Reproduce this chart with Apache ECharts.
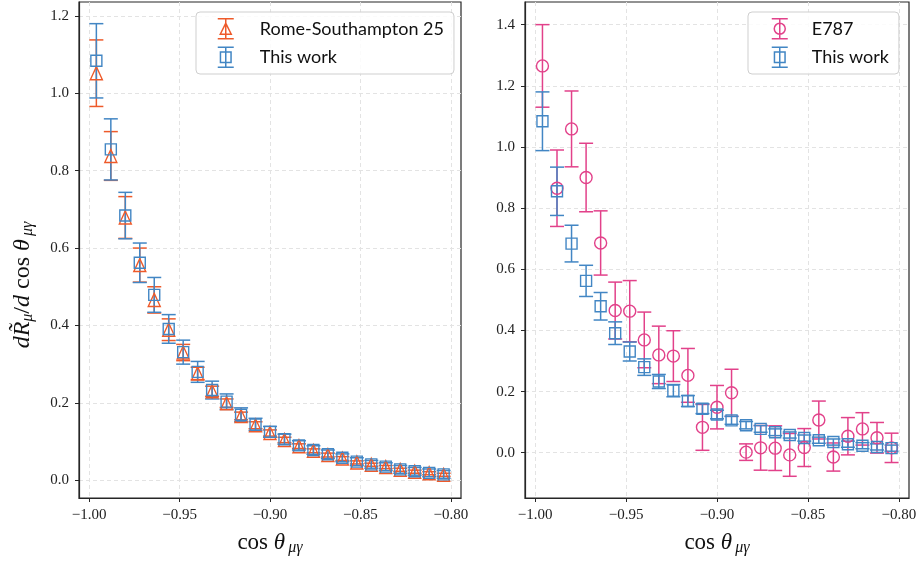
<!DOCTYPE html>
<html>
<head>
<meta charset="utf-8">
<script src="https://cdn.jsdelivr.net/npm/echarts@6/dist/echarts.min.js"></script>
<style>
html,body{margin:0;padding:0;background:#fff;}
#c{width:920px;height:561px;}
</style>
</head>
<body>
<div id="c"></div>
<script>
// ---- data ----
const cosTheta = [-0.996,-0.988,-0.980,-0.972,-0.964,-0.956,-0.948,-0.940,-0.932,-0.924,-0.916,-0.908,-0.900,-0.892,-0.884,-0.876,-0.868,-0.860,-0.852,-0.844,-0.836,-0.828,-0.820,-0.812,-0.804];

const thisWorkY   = [1.084,0.855,0.684,0.562,0.479,0.391,0.331,0.280,0.233,0.203,0.169,0.144,0.125,0.106,0.090,0.078,0.067,0.058,0.048,0.041,0.035,0.028,0.023,0.019,0.015];
const thisWorkErr = [0.096,0.079,0.060,0.051,0.045,0.037,0.031,0.027,0.023,0.020,0.018,0.016,0.014,0.013,0.012,0.011,0.011,0.010,0.010,0.010,0.010,0.010,0.010,0.010,0.010];

const romeY   = [1.052,0.838,0.679,0.556,0.466,0.389,0.330,0.276,0.230,0.199,0.166,0.142,0.122,0.104,0.088,0.076,0.065,0.056,0.046,0.040,0.034,0.027,0.022,0.018,0.014];
const romeErr = [0.086,0.063,0.054,0.044,0.034,0.028,0.021,0.016,0.013,0.011,0.010,0.009,0.008,0.007,0.006,0.005,0.005,0.005,0.004,0.004,0.004,0.004,0.004,0.004,0.004];

const e787Y   = [1.265,0.865,1.059,0.900,0.686,0.465,0.463,0.369,0.320,0.316,0.253,0.083,0.149,0.196,0.002,0.016,0.015,-0.007,0.017,0.107,-0.014,0.054,0.078,0.049,0.016];
const e787Err = [0.135,0.125,0.124,0.112,0.105,0.093,0.100,0.091,0.094,0.083,0.088,0.075,0.071,0.077,0.027,0.073,0.073,0.070,0.062,0.062,0.046,0.061,0.053,0.050,0.048];

const xTicks = [-1.00,-0.95,-0.90,-0.85,-0.80];
const yTicksLeft = [0.0,0.2,0.4,0.6,0.8,1.0,1.2];
const yTicksRight = [0.0,0.2,0.4,0.6,0.8,1.0,1.2,1.4];

const names = {rome:'Rome-Southampton 25', tw:'This work', e787:'E787'};
const colors = {rome:'#EE5A2A', tw:'#4286C4', e787:'#E2418A'};

// ---- helpers ----
const minus = s => s.replace('-', '\u2212');
function triples(ys, es){ return cosTheta.map((x,i)=>[x, ys[i], es[i]]); }
function pairs(ys){ return cosTheta.map((x,i)=>[x, ys[i]]); }

function errRender(color){
  return function(params, api){
    const x = api.value(0), y = api.value(1), e = api.value(2);
    const top = api.coord([x, y + e]);
    const bot = api.coord([x, y - e]);
    const cw = 7;
    const st = {stroke: color, lineWidth: 1.5, fill: null};
    return {type:'group', children:[
      {type:'line', shape:{x1:top[0], y1:top[1], x2:bot[0], y2:bot[1]}, style:st},
      {type:'line', shape:{x1:top[0]-cw, y1:top[1], x2:top[0]+cw, y2:top[1]}, style:st},
      {type:'line', shape:{x1:bot[0]-cw, y1:bot[1], x2:bot[0]+cw, y2:bot[1]}, style:st}
    ]};
  };
}
function errSeries(name, ys, es, color, idx){
  return {type:'custom', name:name, xAxisIndex:idx, yAxisIndex:idx,
    renderItem: errRender(color), data: triples(ys, es),
    encode:{x:0, y:1}, silent:true, clip:false, animation:false};
}
function markSeries(name, ys, color, idx, symbol, size){
  return {type:'scatter', name:name, xAxisIndex:idx, yAxisIndex:idx,
    data: pairs(ys), symbol:symbol, symbolSize:size, silent:true, animation:false,
    itemStyle:{color:'rgba(0,0,0,0)', borderColor:color, borderWidth:1.4, opacity:1},
    emphasis:{disabled:true}};
}

const serif = 'Liberation Serif';
const axisColor = '#262626';
const gridLine = {show:true, lineStyle:{color:'#e3e3e3', type:[4,3], width:1}};

function xAxis(idx){
  return {type:'value', gridIndex:idx, min:-1.0056, max:-0.7944,
    axisLine:{show:true, onZero:false, lineStyle:{color:axisColor, width:1.2}},
    axisTick:{show:true, length:4, customValues:xTicks, lineStyle:{color:axisColor, width:1}},
    axisLabel:{customValues:xTicks, formatter:v=>minus(v.toFixed(2)), fontFamily:serif, fontSize:15, color:'#222', margin:10},
    splitLine:gridLine,
    name:'{n|cos }{i|\u03b8}{s|\u2009\u03bc\u03b3}', nameLocation:'middle', nameGap:32,
    nameTextStyle:{rich:{
      n:{fontFamily:serif, fontSize:23, color:'#111'},
      i:{fontFamily:serif, fontStyle:'italic', fontSize:23, color:'#111'},
      s:{fontFamily:serif, fontStyle:'italic', fontSize:16, color:'#111', verticalAlign:'bottom', padding:[10,0,0,0]}
    }}
  };
}
function yAxis(idx, min, max, ticks, withName){
  const a = {type:'value', gridIndex:idx, min:min, max:max,
    axisLine:{show:true, onZero:false, lineStyle:{color:axisColor, width:1.2}},
    axisTick:{show:true, length:4, customValues:ticks, lineStyle:{color:axisColor, width:1}},
    axisLabel:{customValues:ticks, formatter:v=>minus(v.toFixed(1)), fontFamily:serif, fontSize:15, color:'#222', margin:10},
    splitLine:gridLine};
  if (withName){
    a.name = '{i|dR\u0303}{s|\u03bc}{n|/}{i|d}{n| cos }{i|\u03b8}{s|\u2009\u03bc\u03b3}';
    a.nameLocation = 'middle';
    a.nameGap = 43;
    a.nameRotate = 90;
    a.nameTextStyle = {padding:[0,70,0,0], rich:{
      n:{fontFamily:serif, fontSize:24, color:'#111'},
      i:{fontFamily:serif, fontStyle:'italic', fontSize:24, color:'#111'},
      s:{fontFamily:serif, fontStyle:'italic', fontSize:16, color:'#111', padding:[10,0,0,0]}
    }};
  }
  return a;
}

const capPath = 'M0,0 L16,0 M8,0 L8,20 M0,20 L16,20 ';
const icons = {
  tri: 'path://' + capPath + 'M2.5,15.5 L8,4.5 L13.5,15.5 Z',
  sq: 'path://' + capPath + 'M2.7,4.7 L13.3,4.7 L13.3,15.3 L2.7,15.3 Z',
  circ: 'path://' + capPath + 'M2.5,10 A5.5,5.5 0 1,0 13.5,10 A5.5,5.5 0 1,0 2.5,10 Z'
};
function legendItem(name, icon, color){
  return {name:name, icon:icon, itemStyle:{color:'rgba(0,0,0,0)', borderColor:color, borderWidth:1.5, opacity:1}};
}
function legend(left, padLeft, textPad, items){
  return {left:left, top:12, orient:'vertical', itemWidth:16, itemHeight:20, itemGap:7,
    padding:[6,10,6,padLeft], backgroundColor:'rgba(255,255,255,0.85)', borderColor:'#cfcfcf', borderWidth:1, borderRadius:4,
    selectedMode:false,
    textStyle:{fontFamily:'Lato', fontSize:18, color:'#111', padding:[0,0,0,textPad]},
    data: items};
}

const option = {
  animation:false,
  backgroundColor:'#fff',
  grid:[
    {left:79, top:2, width:382, height:498, show:true, borderColor:axisColor, borderWidth:1.2, backgroundColor:'transparent'},
    {left:525, top:2, width:384, height:498, show:true, borderColor:axisColor, borderWidth:1.2, backgroundColor:'transparent'}
  ],
  xAxis:[xAxis(0), xAxis(1)],
  yAxis:[yAxis(0,-0.046,1.236,yTicksLeft,true), yAxis(1,-0.148,1.474,yTicksRight,false)],
  legend:[
    legend(196, 21, 21, [legendItem(names.rome, icons.tri, colors.rome), legendItem(names.tw, icons.sq, colors.tw)]),
    legend(748, 23, 19, [legendItem(names.e787, icons.circ, colors.e787), legendItem(names.tw, icons.sq, colors.tw)])
  ],
  series:[
    errSeries(names.rome, romeY, romeErr, colors.rome, 0),
    markSeries(names.rome, romeY, colors.rome, 0, 'triangle', [12,13]),
    errSeries(names.tw, thisWorkY, thisWorkErr, colors.tw, 0),
    markSeries(names.tw, thisWorkY, colors.tw, 0, 'rect', 11),
    errSeries(names.e787, e787Y, e787Err, colors.e787, 1),
    markSeries(names.e787, e787Y, colors.e787, 1, 'circle', 12),
    errSeries(names.tw, thisWorkY, thisWorkErr, colors.tw, 1),
    markSeries(names.tw, thisWorkY, colors.tw, 1, 'rect', 11)
  ]
};
const chart = echarts.init(document.getElementById('c'), null, {renderer:'canvas'});
chart.setOption(option);
</script>
</body>
</html>
